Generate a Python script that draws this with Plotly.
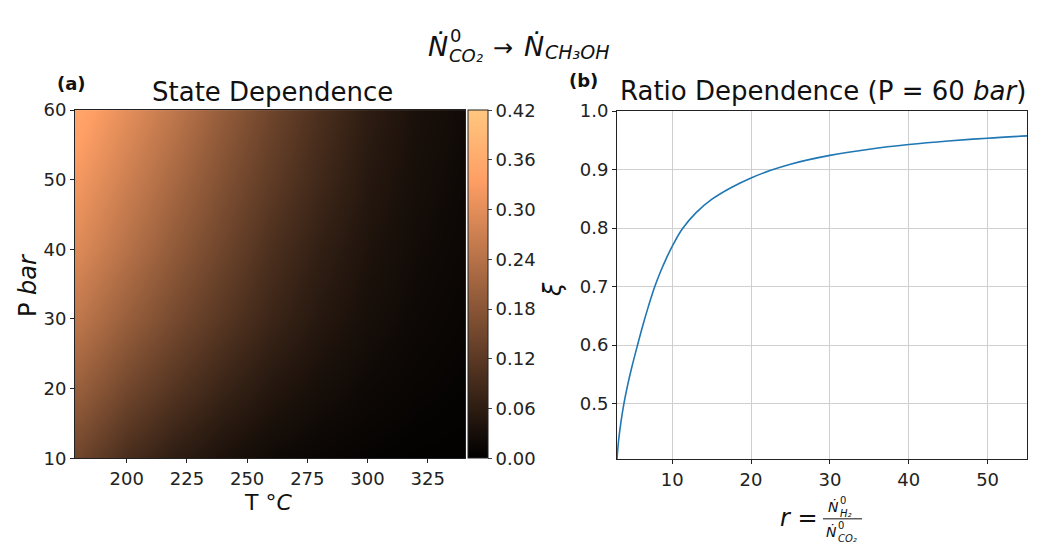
import plotly.graph_objects as go

# ---------------- data ----------------
T_vals = [180, 200, 220, 240, 260, 280, 300, 320, 340]
P_vals = [10, 20, 30, 40, 50, 60]
xi_grid = [
    [0.145, 0.095, 0.060, 0.036, 0.020, 0.012, 0.007, 0.004, 0.003],  # P=10
    [0.200, 0.150, 0.110, 0.075, 0.048, 0.030, 0.018, 0.011, 0.007],  # P=20
    [0.250, 0.200, 0.155, 0.115, 0.078, 0.050, 0.030, 0.018, 0.011],  # P=30
    [0.290, 0.240, 0.190, 0.145, 0.100, 0.066, 0.040, 0.024, 0.015],  # P=40
    [0.320, 0.270, 0.220, 0.170, 0.125, 0.085, 0.050, 0.030, 0.018],  # P=50
    [0.350, 0.300, 0.250, 0.195, 0.145, 0.100, 0.060, 0.035, 0.022],  # P=60
]
cbar_ticks = [0.00, 0.06, 0.12, 0.18, 0.24, 0.30, 0.36, 0.42]
T_ticks = [200, 225, 250, 275, 300, 325]
P_ticks = [10, 20, 30, 40, 50, 60]

r_vals = [3.0, 3.2, 3.5, 3.85, 4.3, 4.9, 5.6, 6.3, 7.0, 7.75, 8.5, 9.3, 10.2, 11.3,
          13.0, 15.0, 17.5, 20.0, 22.5, 25.0, 30.0, 35.0, 40.0, 45.0, 50.0, 55.0]
xi_vals = [0.405, 0.437, 0.4685, 0.498, 0.5286, 0.5634, 0.5998, 0.6348, 0.667, 0.6985,
           0.7248, 0.7496, 0.7739, 0.7987, 0.8259, 0.8489, 0.8694, 0.8857, 0.8987, 0.9092,
           0.9242, 0.9347, 0.9427, 0.9488, 0.9536, 0.9575]
r_ticks = [10, 20, 30, 40, 50]
xi_ticks = [0.5, 0.6, 0.7, 0.8, 0.9, 1.0]

W, H = 1042, 550
def px(x):
    return x / W
def py(y):
    return 1 - y / H

copper = [[0.0, "rgb(0,0,0)"], [0.8, "rgb(255,159,101)"], [1.0, "rgb(255,199,127)"]]
FONT = "DejaVu Sans"
TICK = dict(family=FONT, size=18, color="#222")

fig = go.Figure()
fig.add_trace(go.Heatmap(
    x=T_vals, y=P_vals, z=xi_grid, zmin=0, zmax=0.42, zsmooth="best",
    colorscale=copper, xaxis="x", yaxis="y",
    colorbar=dict(
        x=px(468), xanchor="left", xpad=0, ypad=0,
        y=py(465), yanchor="bottom", len=(465 - 103) / H, lenmode="fraction",
        thickness=20, thicknessmode="pixels", outlinewidth=1, outlinecolor="#222",
        tickvals=cbar_ticks, tickformat=".2f", ticks="outside", ticklen=4,
        tickfont=TICK,
    ),
))
fig.add_trace(go.Scatter(
    x=r_vals, y=xi_vals, mode="lines", line=dict(color="#1f77b4", width=1.6, shape="spline", smoothing=1.0),
    xaxis="x2", yaxis="y2", showlegend=False,
))

axis_common = dict(showline=True, linecolor="#222", linewidth=1, mirror=True, ticks="outside",
                   ticklen=4, tickcolor="#222", tickfont=TICK, zeroline=False)
fig.update_layout(
    width=W, height=H, margin=dict(l=0, r=0, t=0, b=0),
    paper_bgcolor="white", plot_bgcolor="white", showlegend=False,
    xaxis=dict(domain=[px(75), px(465)], range=[178.5, 340.5], tickvals=T_ticks,
               showgrid=False, anchor="y", **axis_common),
    yaxis=dict(domain=[py(465), py(103)], range=[10, 60], tickvals=P_ticks,
               showgrid=False, anchor="x", **axis_common),
    xaxis2=dict(domain=[px(617), px(1027)], range=[3, 55], tickvals=r_ticks,
                showgrid=True, gridcolor="#cfcfcf", gridwidth=1, anchor="y2", **axis_common),
    yaxis2=dict(domain=[py(466), py(104)], range=[0.405, 1.0], tickvals=xi_ticks, tickformat=".1f",
                showgrid=True, gridcolor="#cfcfcf", gridwidth=1, anchor="x2", **axis_common),
)

def ann(text, x, y, size, xanchor="center", **kw):
    d = dict(text=text, x=px(x), y=py(y), xref="paper", yref="paper", showarrow=False,
             font=dict(family=FONT, size=size, color="#111"), xanchor=xanchor, yanchor="middle",
             borderpad=0)
    d.update(kw)
    fig.add_annotation(**d)

# super-title: N-dot^0_{CO2} -> N-dot_{CH3OH}
ann("<i>Ṅ</i>", 427, 37, 27, xanchor="left")
ann("0", 449, 25, 18, xanchor="left")
ann("<i>CO₂</i>", 448, 46, 18, xanchor="left")
ann("→", 492, 38, 24, xanchor="left")
ann("<i>Ṅ</i>", 523, 37, 27, xanchor="left")
ann("<i>CH₃OH</i>", 544, 43, 19, xanchor="left")

ann("<b>(a)</b>", 71, 75, 18)
ann("State Dependence", 272, 84, 26)
ann("<b>(b)</b>", 583, 72, 18)
ann("Ratio Dependence (P = 60 <i>bar</i>)", 823, 83, 26)
ann("P <i>bar</i>", 28, 285, 24, textangle=-90)
ann("T °<i>C</i>", 268, 511, 22)
ann("<i>ξ</i>", 553, 290, 24, textangle=-90)

# x-label of right panel: r = N-dot^0_{H2} / N-dot^0_{CO2}
ann("<i>r</i> =", 819, 527, 24, xanchor="right")
ann("<i>Ṅ</i>", 827, 515, 14, xanchor="left")
ann("0", 839, 509, 10, xanchor="left")
ann("<i>H₂</i>", 839, 522, 10, xanchor="left")
ann("<i>Ṅ</i>", 825, 541, 14, xanchor="left")
ann("0", 837, 535, 10, xanchor="left")
ann("<i>CO₂</i>", 837, 548, 10, xanchor="left")
fig.add_shape(type="line", xref="paper", yref="paper", x0=px(823), x1=px(862), y0=py(528), y1=py(528),
              line=dict(color="#111", width=1))

fig.write_html("out.html")
